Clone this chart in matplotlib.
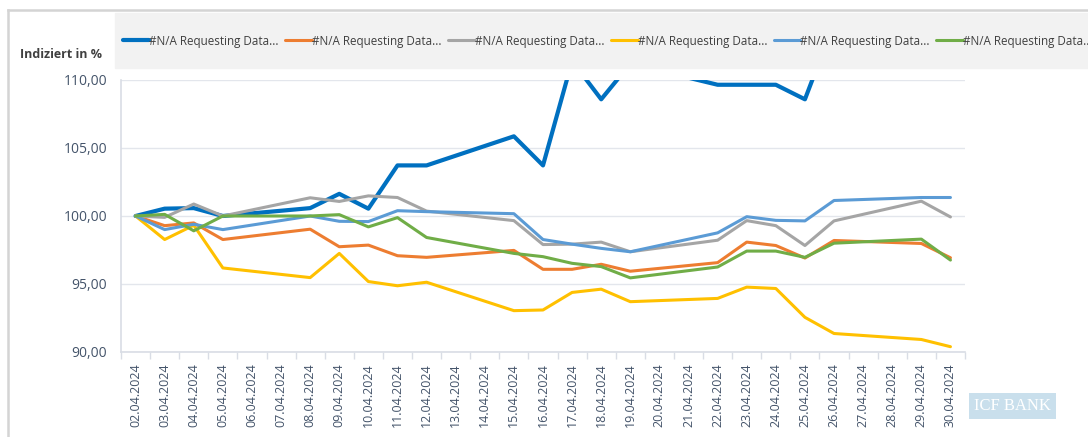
import matplotlib.pyplot as plt
from matplotlib.patches import Rectangle
from matplotlib.lines import Line2D

plt.rcParams['font.family'] = ['Open Sans', 'DejaVu Sans']

# every calendar day on the axis
dates = [f"{d:02d}.04.2024" for d in range(2, 31)]

# trading days that carry a value
obs_dates = ["02.04.2024", "03.04.2024", "04.04.2024", "05.04.2024",
             "08.04.2024", "09.04.2024", "10.04.2024", "11.04.2024", "12.04.2024",
             "15.04.2024", "16.04.2024", "17.04.2024", "18.04.2024", "19.04.2024",
             "22.04.2024", "23.04.2024", "24.04.2024", "25.04.2024", "26.04.2024",
             "29.04.2024", "30.04.2024"]

series_1 = [100.0, 100.54, 100.58, 100.0, 100.58, 101.63, 100.54, 103.72, 103.72,
            105.86, 103.72, 111.4, 108.58, 111.2, 109.65, 109.65, 109.65, 108.58,
            114.2, 113.8, 114.0]
series_2 = [100.0, 99.29, 99.49, 98.27, 99.03, 97.74, 97.86, 97.08, 96.96,
            97.47, 96.08, 96.08, 96.45, 95.94, 96.57, 98.08, 97.83, 96.91, 98.2,
            97.98, 96.93]
series_3 = [100.0, 99.9, 100.88, 100.0, 101.34, 101.07, 101.48, 101.36, 100.36,
            99.66, 97.9, 97.93, 98.08, 97.37, 98.22, 99.66, 99.29, 97.83, 99.64,
            101.09, 99.93]
series_4 = [100.0, 98.27, 99.32, 96.18, 95.47, 97.25, 95.18, 94.87, 95.13,
            93.04, 93.09, 94.38, 94.62, 93.70, 93.94, 94.77, 94.67, 92.55, 91.36,
            90.92, 90.39]
series_5 = [100.0, 99.0, 99.39, 99.0, 100.0, 99.61, 99.59, 100.39, 100.32,
            100.17, 98.27, 97.93, 97.62, 97.37, 98.76, 99.95, 99.68, 99.64, 101.14,
            101.36, 101.36]
series_6 = [100.0, 100.12, 98.91, 100.0, 100.0, 100.1, 99.2, 99.88, 98.42,
            97.25, 97.01, 96.52, 96.28, 95.45, 96.25, 97.42, 97.42, 96.96, 98.0,
            98.3, 96.76]

legend_label = "#N/A Requesting Data..."
y_ticks = [90, 95, 100, 105, 110]

colors = ["#0070C0", "#ED7D31", "#A5A5A5", "#FFC000", "#5B9BD5", "#70AD47"]
widths = [3.0, 2.2, 2.2, 2.2, 2.2, 2.2]

fig = plt.figure(figsize=(10.88, 4.37), dpi=100)

# chart frame and legend band
fig.add_artist(Line2D([8 / 1088, 1], [1 - 10 / 437] * 2, color="#d4d4d4", lw=1.8,
                      transform=fig.transFigure))
fig.add_artist(Line2D([8 / 1088] * 2, [0, 1 - 10 / 437], color="#d4d4d4", lw=1.8,
                      transform=fig.transFigure))
fig.add_artist(Rectangle((115 / 1088, 1 - 68 / 437), 1 - 115 / 1088, 55 / 437,
                         transform=fig.transFigure, color="#f2f2f2", zorder=0))

ax = fig.add_axes([121 / 1088, 1 - 352 / 437, 844 / 1088, 272 / 437])

x_pos = [dates.index(d) for d in obs_dates]
all_series = [series_1, series_2, series_3, series_4, series_5, series_6]
handles = []
for vals, c, w in zip(all_series, colors, widths):
    ln, = ax.plot(x_pos, vals, color=c, lw=w, solid_joinstyle="round",
                  solid_capstyle="round", label=legend_label)
    handles.append(ln)

ax.set_ylim(90, 110)
ax.set_xlim(-0.5, len(dates) - 0.5)
ax.set_yticks(y_ticks)
ax.set_yticklabels([f"{v:.2f}".replace(".", ",") for v in y_ticks])
ax.set_xticks(range(len(dates)))
ax.set_xticklabels(dates, rotation=90)
ax.set_xticks([i - 0.5 for i in range(len(dates) + 1)], minor=True)
ax.tick_params(axis="x", which="major", length=0, pad=8, labelsize=9,
               labelcolor="#44546A")
ax.tick_params(axis="x", which="minor", length=5, color="#d9dde5", width=1)
ax.tick_params(axis="y", length=0, pad=10, labelsize=10, labelcolor="#44546A")
ax.grid(axis="y", color="#e3e6ec", lw=1)
ax.set_axisbelow(True)
for s in ["top", "right"]:
    ax.spines[s].set_visible(False)
for s in ["left", "bottom"]:
    ax.spines[s].set_color("#d9dde5")
    ax.spines[s].set_linewidth(1.2)

fig.text(20 / 1088, 1 - 55 / 437, "Indiziert in %", fontsize=9, fontweight="bold",
         color="#404040", va="center")

fig.legend(handles=handles, loc="center left", bbox_to_anchor=(112 / 1088, 1 - 41 / 437),
           ncol=6, frameon=False, fontsize=8.4, handlelength=2.3, handletextpad=0.0,
           columnspacing=0.55, labelcolor="#404040")

# bank logo
fig.text(1012 / 1088, 1 - 406 / 437, "ICF BANK", fontsize=12, family="Liberation Serif",
         color="white", ha="center", va="center",
         bbox=dict(boxstyle="square,pad=0.3", fc="#c9dfec", ec="none"))

fig.savefig("out.png", dpi=100)
